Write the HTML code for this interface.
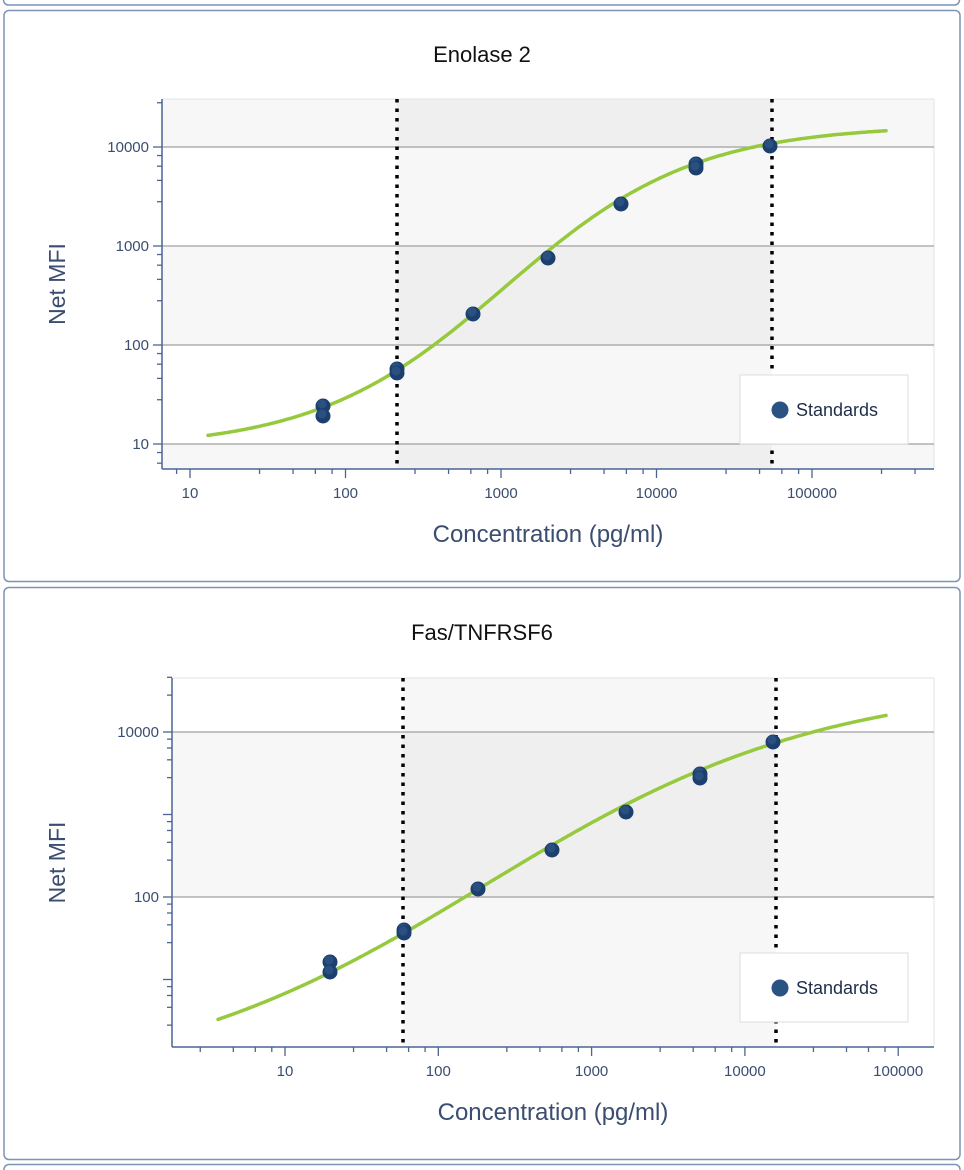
<!DOCTYPE html>
<html><head><meta charset="utf-8"><style>
html,body{margin:0;padding:0;background:#fff;width:964px;height:1170px;overflow:hidden;font-family:"Liberation Sans",sans-serif}
svg{display:block}
</style></head><body>
<svg id="s" width="964" height="1170" xmlns="http://www.w3.org/2000/svg"></svg>
<script>
const s=document.getElementById('s');let h='';
h+='<rect x="3.5" y="-8" width="956" height="13" rx="5" fill="none" stroke="#7f93b5" stroke-width="1.5"/>';
h+='<rect x="4" y="10.5" width="956" height="571" rx="5" fill="none" stroke="#7f93b5" stroke-width="1.5"/>';
h+='<rect x="4" y="587.5" width="956" height="572" rx="5" fill="none" stroke="#7f93b5" stroke-width="1.5"/>';
h+='<rect x="4" y="1164.5" width="956" height="20" rx="5" fill="none" stroke="#7f93b5" stroke-width="1.5"/>';
const MIN=[1,2.8,4.6,6.4,8.2];
function chart(o){
 const {x0,x1,y0,y1,xd,xdec,yd,ydec,bands,grids,ylabels,d1,d2,title,ty,fn,pts,xlo,xhi,lx,ly}=o;
 bands.forEach(b=>{h+=`<rect x="${x0}" y="${b[0]}" width="${x1-x0}" height="${b[1]-b[0]}" fill="${b[2]}"/>`;});
 h+=`<rect x="${d1}" y="${y0}" width="${d2-d1}" height="${y1-y0}" fill="rgba(0,0,0,0.03)"/>`;
 h+=`<line x1="${x0}" y1="${y0}" x2="${x1}" y2="${y0}" stroke="#dde3ec"/><line x1="${x1}" y1="${y0}" x2="${x1}" y2="${y1}" stroke="#dde3ec"/>`;
 grids.forEach(g=>{h+=`<line x1="${x0}" y1="${g}" x2="${x1}" y2="${g}" stroke="#a0a0a0" stroke-width="1.3"/>`;});
 h+=`<line x1="${x0}" y1="${y0}" x2="${x0}" y2="${y1}" stroke="#4a6595" stroke-width="1.5"/>`;
 h+=`<line x1="${x0}" y1="${y1}" x2="${x1}" y2="${y1}" stroke="#4a6595" stroke-width="1.5"/>`;
 for(let k=-1;k<6;k++){MIN.forEach(m=>{const y=yd-(k+Math.log10(m))*ydec;if(y<y0-2||y>y1)return;const L=m==1?9:5;h+=`<line x1="${x0-L}" y1="${y}" x2="${x0}" y2="${y}" stroke="#4a6595" stroke-width="1.3"/>`;});}
 ylabels.forEach(l=>{h+=`<text x="${x0-13}" y="${l[1]+5}" text-anchor="end" font-size="15" fill="#3b4d70">${l[0]}</text>`;});
 for(let k=-1;k<6;k++){MIN.forEach(m=>{const x=xd+(k+Math.log10(m))*xdec;if(x<x0||x>x1)return;const L=m==1?9:5;h+=`<line x1="${x}" y1="${y1}" x2="${x}" y2="${y1+L}" stroke="#4a6595" stroke-width="1.3"/>`;});}
 ['10','100','1000','10000','100000'].forEach((t,i)=>{h+=`<text x="${xd+i*xdec}" y="${y1+29}" text-anchor="middle" font-size="15" fill="#3b4d70">${t}</text>`;});
 [d1,d2].forEach(d=>{h+=`<line x1="${d}" y1="${y0}" x2="${d}" y2="${y1}" stroke="#000" stroke-width="3.5" stroke-dasharray="3.5,6"/>`;});
 let p='';for(let x=xlo;x<=xhi;x+=2){p+=(p?'L':'M')+x+','+fn(x).toFixed(1);}
 h+=`<path d="${p}" fill="none" stroke="#96c93d" stroke-width="3.5" stroke-linecap="round"/>`;
 pts.forEach(q=>{h+=`<circle cx="${q[0]}" cy="${q[1]}" r="7.5" fill="#1d3f6e"/><circle cx="${q[0]-1}" cy="${q[1]-2}" r="4.5" fill="#2f5888" opacity="0.7"/>`;});
 h+=`<rect x="${lx}" y="${ly}" width="168" height="69" fill="#fff" stroke="#d8dce4"/>`;
 h+=`<circle cx="${lx+40}" cy="${ly+35}" r="8.5" fill="#2a5283"/><text x="${lx+56}" y="${ly+41}" font-size="18" fill="#1e2e4a">Standards</text>`;
 h+=`<text x="482" y="${ty}" text-anchor="middle" font-size="22" fill="#111">${title}</text>`;
 h+=`<text transform="translate(65,${(y0+y1)/2}) rotate(-90)" text-anchor="middle" font-size="23" fill="#3b4d70">Net MFI</text>`;
 h+=`<text x="${(x0+x1)/2}" y="${y1+73}" text-anchor="middle" font-size="24" fill="#3b4d70">Concentration (pg/ml)</text>`;
}
const L='#f7f7f7',W='#ffffff';
chart({x0:162,x1:934,y0:99,y1:469,xd:190,xdec:155.5,yd:444,ydec:99,
 bands:[[99,147,L],[147,246,W],[246,345,L],[345,444,W],[444,469,L]],grids:[147,246,345,444],
 ylabels:[['10000',147],['1000',246],['100',345],['10',444]],d1:397,d2:772,title:'Enolase 2',ty:62,
 fn:x=>449-324/(1+Math.exp(-(x-505)/95)),xlo:208,xhi:886,
 pts:[[323,406],[323,416],[397,369],[397,373],[473,314],[548,258],[621,204],[696,164],[696,168],[770,146]],lx:740,ly:375});
chart({x0:172,x1:934,y0:678,y1:1047,xd:285,xdec:153.3,yd:897+2*82.5,ydec:82.5,
 bands:[[678,732,W],[732,897,L],[897,1047,W]],grids:[732,897],
 ylabels:[['10000',732],['100',897]],d1:403,d2:776,title:'Fas/TNFRSF6',ty:640,
 fn:x=>1090-410/(1+Math.exp(-(x-485)/170)),xlo:218,xhi:886,
 pts:[[330,962],[330,972],[404,930],[404,933],[478,889],[552,850],[626,812],[700,774],[700,778],[773,742]],lx:740,ly:953});
s.innerHTML=h;
</script>
</body></html>
